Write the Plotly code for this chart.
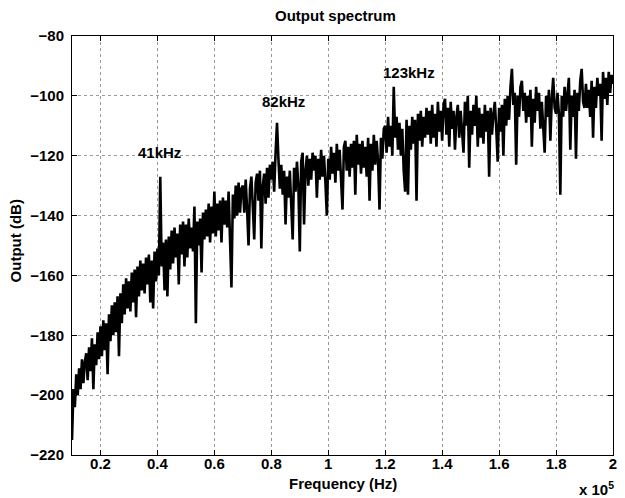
import numpy as np
import plotly.graph_objects as go

# Sample grid (Hz): 10 kHz to 200 kHz in 0.5 kHz steps
freq_hz = np.arange(10000, 200001, 500)

# Output level (dB), split by frequency band
db_10_50k = [
    -215, -198, -204, -193, -200, -191, -198, -188, -196, -189,
    -186, -195, -184, -192, -181, -198, -183, -190, -179, -188,
    -177, -187, -175, -185, -176, -193, -173, -182, -170, -180,
    -169, -179, -167, -187, -166, -176, -163, -173, -161, -171,
    -162, -172, -159, -169, -158, -174, -157, -167, -155, -165,
    -156, -166, -154, -163, -153, -169, -155, -171, -152, -162,
    -151, -160, -127, -157, -149, -165, -148, -167, -147, -158,
    -145, -156, -144, -154, -146, -163, -143, -153, -142, -157,
]
db_50_90k = [
    -143, -154, -141, -151, -144, -152, -137, -176, -142, -150,
    -141, -159, -139, -148, -138, -147, -136, -149, -137, -146,
    -132, -147, -136, -145, -135, -149, -134, -143, -135, -144,
    -132, -149, -164, -133, -141, -130, -140, -129, -139, -131,
    -130, -139, -128, -138, -150, -131, -127, -137, -148, -129,
    -126, -135, -125, -151, -130, -126, -136, -124, -134, -123,
    -128, -122, -132, -119, -109, -121, -131, -123, -133, -125,
    -143, -127, -134, -125, -135, -148, -124, -132, -122, -130,
]
db_90_130k = [
    -152, -122, -119, -143, -125, -120, -130, -121, -128, -119,
    -125, -120, -134, -121, -128, -118, -127, -120, -129, -140,
    -121, -128, -117, -126, -119, -129, -116, -125, -118, -127,
    -138, -117, -115, -125, -117, -127, -116, -124, -115, -133,
    -113, -123, -116, -126, -115, -124, -117, -127, -114, -135,
    -116, -125, -113, -123, -115, -122, -138, -114, -121, -111,
    -110, -119, -107, -117, -110, -120, -97, -114, -107, -118,
    -109, -120, -111, -125, -132, -108, -133, -110, -118, -107,
]
db_130_170k = [
    -116, -108, -135, -106, -115, -105, -117, -107, -114, -104,
    -113, -105, -116, -103, -114, -106, -117, -102, -112, -105,
    -115, -103, -101, -113, -104, -117, -102, -111, -105, -118,
    -107, -103, -114, -105, -111, -119, -102, -110, -100, -124,
    -105, -113, -103, -110, -100, -117, -104, -114, -106, -116,
    -103, -112, -105, -127, -104, -113, -106, -102, -111, -122,
    -104, -112, -103, -120, -101, -110, -100, -108, -97, -91,
    -103, -99, -123, -100, -107, -97, -95, -105, -99, -109,
]
db_170_200k = [
    -100, -107, -98, -117, -101, -109, -97, -105, -99, -111,
    -102, -109, -119, -100, -107, -98, -115, -101, -94, -104,
    -106, -99, -106, -133, -100, -107, -97, -105, -99, -94,
    -118, -100, -107, -98, -121, -99, -105, -95, -91, -102,
    -104, -96, -104, -98, -107, -95, -114, -97, -104, -94,
    -100, -96, -115, -92, -101, -94, -103, -92, -99, -93,
    -96,
]
output_db = db_10_50k + db_50_90k + db_90_130k + db_130_170k + db_170_200k

x_tick_vals = [20000, 40000, 60000, 80000, 100000, 120000, 140000, 160000, 180000, 200000]
x_tick_text = ["0.2", "0.4", "0.6", "0.8", "1", "1.2", "1.4", "1.6", "1.8", "2"]
y_tick_vals = [-220, -200, -180, -160, -140, -120, -100, -80]

peak_labels = ["41kHz", "82kHz", "123kHz"]
peak_label_x = [40600, 84300, 128400]
peak_label_y = [-118.8, -102, -92.2]

FONT = "Liberation Sans, Arial, sans-serif"

# The page body has an 8px margin, so the figure is 8px smaller than the window
W, H = 617, 490
L, R, T, B = 64, 8, 28, 43
PW, PH = W - L - R, H - T - B

fig = go.Figure()
fig.add_trace(go.Scatter(
    x=freq_hz, y=output_db, mode="lines",
    line=dict(color="black", width=2.6), showlegend=False, hoverinfo="skip",
))

axis_common = dict(
    showline=True, linecolor="black", linewidth=1, mirror="ticks",
    ticks="inside", ticklen=5, tickcolor="black", tickwidth=1,
    showgrid=True, gridcolor="#9a9a9a", griddash="dot", gridwidth=1,
    zeroline=False,
    tickfont=dict(family=FONT, size=15, color="black", weight="bold"),
)

fig.update_layout(
    width=W, height=H,
    margin=dict(l=L, r=R, t=T, b=B),
    paper_bgcolor="white", plot_bgcolor="white",
    xaxis=dict(range=[9999.9, 200000.1], tickvals=x_tick_vals, ticktext=x_tick_text,
               ticklabelstandoff=-5, **axis_common),
    yaxis=dict(range=[-220, -80], tickvals=y_tick_vals, ticklabelstandoff=4, **axis_common),
)

for txt, xv, yv in zip(peak_labels, peak_label_x, peak_label_y):
    fig.add_annotation(x=xv, y=yv, xref="x", yref="y", text=txt, showarrow=False,
                       font=dict(family=FONT, size=15, color="black", weight="bold"))

def ann(text, px, py, size=15, angle=0):
    # px, py are window pixel positions from the reference
    fx, fy = px - 8, py - 8
    fig.add_annotation(
        x=(fx - L) / PW, y=(H - B - fy) / PH, xref="paper", yref="paper",
        text=text, showarrow=False, textangle=angle, xanchor="center", yanchor="middle",
        font=dict(family=FONT, size=size, color="black", weight="bold"),
    )

ann("Output spectrum", 337, 16)
ann("Frequency (Hz)", 345, 483)
ann("Output (dB)", 15, 241, angle=-90)
ann("x 10<sup>5</sup>", 600, 488)

fig.write_html("out.html")
